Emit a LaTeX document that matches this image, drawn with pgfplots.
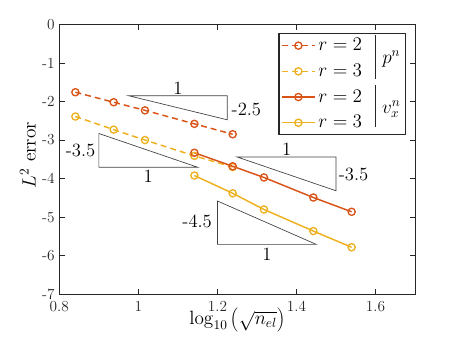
\documentclass[border=0pt]{standalone}
\usepackage{pgfplots}
\pgfplotsset{compat=1.18}
\definecolor{mred}{rgb}{0.85,0.325,0.098}
\definecolor{myel}{rgb}{0.929,0.694,0.125}
\definecolor{axgray}{rgb}{0.15,0.15,0.15}
\tikzset{
  tri/.style={draw=black!75, line width=0.5pt},
  tl/.style={font=\fontsize{14}{16}\selectfont, inner sep=1pt},
}

\begin{document}
\begin{tikzpicture}
\begin{axis}[
  scale only axis, width=266.8pt, height=202.5pt,
  xmin=0.8, xmax=1.7, ymin=-7, ymax=0,
  xtick={0.8,1,1.2,1.4,1.6}, xticklabels={0.8,1,1.2,1.4,1.6},
  ytick={-7,-6,-5,-4,-3,-2,-1,0}, yticklabels={-7,-6,-5,-4,-3,-2,-1,0},
  tick align=inside, major tick length=4pt,
  axis line style={axgray, line width=0.8pt},
  every tick/.style={axgray, line width=0.6pt},
  tick label style={font=\fontsize{11.5}{13}\selectfont, text=axgray},
  xticklabel style={yshift=-1.5pt},
  label style={font=\fontsize{14.5}{16}\selectfont},
  xlabel={$\log_{10}\left(\sqrt{n_{el}}\right)$},
  ylabel={$L^2$ error},
  xlabel style={at={(axis description cs:0.5,-0.095)}, anchor=center},
  ylabel style={at={(axis description cs:-0.088,0.516)}, anchor=center},
  legend style={at={(0.616,0.967)}, anchor=north west, draw=axgray, line width=0.8pt,
    font=\fontsize{14}{16}\selectfont, inner sep=1.5pt, row sep=4.5pt, fill=none},
  legend cell align=left,
  legend image code/.code={\draw[mark repeat=2,mark phase=2,#1] plot coordinates {(0pt,0pt) (12.5pt,0pt) (25pt,0pt)};},
]

% pressure, dashed
\addplot[mred, line width=1.1pt, dash pattern=on 4.5pt off 3pt, mark=o, mark size=2.7pt,
  mark options={solid, line width=1pt, fill=white}] coordinates {
  (0.8406,-1.76) (0.9375,-2.02) (1.0167,-2.23) (1.1417,-2.58) (1.2386,-2.85)};
\addlegendentry{\makebox[62pt][l]{$r=2$}}
\addplot[myel, line width=1.1pt, dash pattern=on 4.5pt off 3pt, mark=o, mark size=2.7pt,
  mark options={solid, line width=1pt, fill=white}] coordinates {
  (0.8406,-2.39) (0.9375,-2.73) (1.0167,-3.00) (1.1417,-3.41) (1.2386,-3.70)};
\addlegendentry{\makebox[62pt][l]{$r=3$}}

% velocity, solid
\addplot[mred, line width=1.1pt, mark=o, mark size=2.7pt,
  mark options={solid, line width=1pt, fill=white}] coordinates {
  (1.1417,-3.33) (1.2386,-3.68) (1.3177,-3.97) (1.4427,-4.49) (1.5396,-4.86)};
\addlegendentry{\makebox[62pt][l]{$r=2$}}
\addplot[myel, line width=1.1pt, mark=o, mark size=2.7pt,
  mark options={solid, line width=1pt, fill=white}] coordinates {
  (1.1417,-3.92) (1.2386,-4.38) (1.3177,-4.80) (1.4427,-5.36) (1.5396,-5.78)};
\addlegendentry{\makebox[62pt][l]{$r=3$}}

% slope triangles
\draw[tri] (0.975,-1.85) -- (1.225,-1.85) -- (1.225,-2.475) -- cycle;
\node[tl, anchor=south] at (1.1,-1.85) {1};
\node[tl, anchor=west] at (1.232,-2.2) {-2.5};

\draw[tri] (0.9,-2.83) -- (0.9,-3.705) -- (1.15,-3.705) -- cycle;
\node[tl, anchor=east] at (0.895,-3.26) {-3.5};
\node[tl, anchor=north] at (1.025,-3.75) {1};

\draw[tri] (1.25,-3.44) -- (1.5,-3.44) -- (1.5,-4.315) -- cycle;
\node[tl, anchor=south] at (1.375,-3.45) {1};
\node[tl, anchor=west] at (1.503,-3.9) {-3.5};

\draw[tri] (1.2,-4.58) -- (1.2,-5.705) -- (1.45,-5.705) -- cycle;
\node[tl, anchor=east] at (1.19,-5.11) {-4.5};
\node[tl, anchor=north] at (1.325,-5.75) {1};

% legend grouping
\draw[axgray, line width=0.5pt] (1.599,-0.28) -- (1.599,-1.42);
\draw[axgray, line width=0.5pt] (1.599,-1.57) -- (1.599,-2.66);
\node[font=\fontsize{14}{16}\selectfont] at (1.64,-0.90) {$p^n$};
\node[font=\fontsize{14}{16}\selectfont] at (1.64,-2.20) {$v_x^n$};
\end{axis}
\pgfresetboundingbox
\path (current axis.south west) ++(-44.5pt,-36.5pt) rectangle ++(342.75pt,257.25pt);
\end{tikzpicture}
\end{document}
